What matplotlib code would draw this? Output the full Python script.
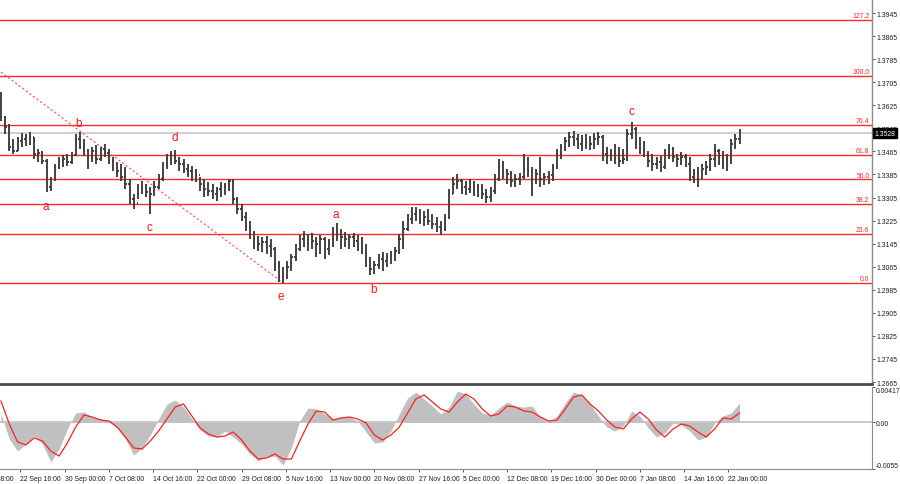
import numpy as np
import matplotlib
matplotlib.use("Agg")
import matplotlib.pyplot as plt
from matplotlib.collections import LineCollection
import matplotlib.transforms as mtransforms

plt.rcParams['font.family'] = ['Liberation Sans', 'DejaVu Sans']

# ---------------- data ----------------
bar_step = 3          # each drawn bar = 3 H4 periods
first_open = 1.3650
highs = [1.3671, 1.3588, 1.3560, 1.3508, 1.3515, 1.3529, 1.3525, 1.3532, 1.3515, 1.3473,
         1.3466, 1.3439, 1.3376, 1.3421, 1.3446, 1.3452, 1.3456, 1.3463, 1.3525, 1.3532,
         1.3508, 1.3473, 1.3480, 1.3487, 1.3480, 1.3491, 1.3473, 1.3446, 1.3428, 1.3421,
         1.3411, 1.3369, 1.3317, 1.3352, 1.3362, 1.3352, 1.3342, 1.3362, 1.3387, 1.3428,
         1.3456, 1.3466, 1.3470, 1.3446, 1.3439, 1.3421, 1.3414, 1.3404, 1.3376, 1.3369,
         1.3359, 1.3352, 1.3342, 1.3359, 1.3355, 1.3369, 1.3369, 1.3307, 1.3283, 1.3255,
         1.3224, 1.3189, 1.3171, 1.3168, 1.3171, 1.3161, 1.3133, 1.3085, 1.3064, 1.3085,
         1.3109, 1.3144, 1.3175, 1.3189, 1.3178, 1.3182, 1.3168, 1.3175, 1.3168, 1.3161,
         1.3203, 1.3217, 1.3196, 1.3185, 1.3178, 1.3182, 1.3175, 1.3168, 1.3144, 1.3099,
         1.3085, 1.3109, 1.3116, 1.3113, 1.3120, 1.3133, 1.3178, 1.3224, 1.3248, 1.3272,
         1.3272, 1.3265, 1.3258, 1.3265, 1.3248, 1.3237, 1.3224, 1.3248, 1.3335, 1.3376,
         1.3387, 1.3369, 1.3362, 1.3369, 1.3362, 1.3352, 1.3352, 1.3335, 1.3342, 1.3387,
         1.3439, 1.3432, 1.3404, 1.3397, 1.3387, 1.3390, 1.3456, 1.3446, 1.3411, 1.3404,
         1.3446, 1.3390, 1.3397, 1.3421, 1.3473, 1.3491, 1.3515, 1.3532, 1.3536, 1.3525,
         1.3522, 1.3525, 1.3518, 1.3529, 1.3532, 1.3522, 1.3480, 1.3473, 1.3491, 1.3480,
         1.3473, 1.3543, 1.3567, 1.3550, 1.3515, 1.3501, 1.3466, 1.3456, 1.3446, 1.3449,
         1.3473, 1.3491, 1.3480, 1.3456, 1.3463, 1.3456, 1.3446, 1.3404, 1.3411, 1.3421,
         1.3432, 1.3456, 1.3491, 1.3473, 1.3466, 1.3456, 1.3508, 1.3525, 1.3543]
lows = [1.3571, 1.3525, 1.3466, 1.3456, 1.3466, 1.3480, 1.3484, 1.3487, 1.3439, 1.3428,
        1.3421, 1.3324, 1.3328, 1.3362, 1.3404, 1.3411, 1.3414, 1.3421, 1.3449, 1.3473,
        1.3449, 1.3404, 1.3428, 1.3421, 1.3432, 1.3446, 1.3421, 1.3397, 1.3376, 1.3362,
        1.3335, 1.3283, 1.3265, 1.3300, 1.3317, 1.3307, 1.3248, 1.3310, 1.3335, 1.3362,
        1.3404, 1.3418, 1.3421, 1.3397, 1.3390, 1.3376, 1.3362, 1.3359, 1.3328, 1.3307,
        1.3310, 1.3300, 1.3293, 1.3307, 1.3314, 1.3328, 1.3283, 1.3248, 1.3224, 1.3189,
        1.3161, 1.3126, 1.3120, 1.3116, 1.3109, 1.3099, 1.3050, 1.3012, 1.3009, 1.3022,
        1.3050, 1.3085, 1.3120, 1.3133, 1.3120, 1.3126, 1.3099, 1.3109, 1.3092, 1.3106,
        1.3133, 1.3154, 1.3126, 1.3133, 1.3126, 1.3133, 1.3120, 1.3109, 1.3064, 1.3036,
        1.3040, 1.3057, 1.3050, 1.3064, 1.3074, 1.3085, 1.3109, 1.3126, 1.3189, 1.3213,
        1.3224, 1.3213, 1.3206, 1.3210, 1.3196, 1.3185, 1.3175, 1.3189, 1.3230, 1.3317,
        1.3335, 1.3317, 1.3314, 1.3321, 1.3310, 1.3307, 1.3300, 1.3286, 1.3290, 1.3317,
        1.3362, 1.3369, 1.3352, 1.3342, 1.3342, 1.3348, 1.3369, 1.3376, 1.3310, 1.3352,
        1.3342, 1.3348, 1.3352, 1.3362, 1.3404, 1.3439, 1.3466, 1.3480, 1.3484, 1.3473,
        1.3466, 1.3473, 1.3470, 1.3473, 1.3487, 1.3432, 1.3421, 1.3432, 1.3421, 1.3411,
        1.3421, 1.3432, 1.3508, 1.3473, 1.3456, 1.3446, 1.3411, 1.3397, 1.3404, 1.3394,
        1.3404, 1.3439, 1.3428, 1.3411, 1.3418, 1.3411, 1.3362, 1.3355, 1.3342, 1.3369,
        1.3383, 1.3397, 1.3411, 1.3418, 1.3404, 1.3397, 1.3421, 1.3473, 1.3491]
closes = [1.3584, 1.3550, 1.3480, 1.3466, 1.3501, 1.3508, 1.3518, 1.3515, 1.3456, 1.3459,
          1.3432, 1.3342, 1.3369, 1.3411, 1.3432, 1.3439, 1.3428, 1.3453, 1.3508, 1.3480,
          1.3466, 1.3446, 1.3466, 1.3439, 1.3473, 1.3459, 1.3432, 1.3411, 1.3397, 1.3376,
          1.3352, 1.3300, 1.3286, 1.3335, 1.3342, 1.3324, 1.3317, 1.3342, 1.3369, 1.3418,
          1.3439, 1.3446, 1.3432, 1.3421, 1.3404, 1.3397, 1.3376, 1.3383, 1.3352, 1.3335,
          1.3328, 1.3317, 1.3335, 1.3342, 1.3348, 1.3362, 1.3300, 1.3265, 1.3237, 1.3203,
          1.3178, 1.3161, 1.3144, 1.3151, 1.3137, 1.3126, 1.3074, 1.3029, 1.3040, 1.3064,
          1.3099, 1.3126, 1.3161, 1.3168, 1.3161, 1.3154, 1.3144, 1.3161, 1.3126, 1.3144,
          1.3189, 1.3178, 1.3168, 1.3161, 1.3168, 1.3154, 1.3147, 1.3126, 1.3085, 1.3057,
          1.3071, 1.3092, 1.3085, 1.3099, 1.3106, 1.3120, 1.3161, 1.3196, 1.3230, 1.3248,
          1.3251, 1.3230, 1.3237, 1.3224, 1.3213, 1.3203, 1.3196, 1.3237, 1.3317, 1.3352,
          1.3362, 1.3342, 1.3335, 1.3348, 1.3328, 1.3335, 1.3317, 1.3307, 1.3328, 1.3369,
          1.3411, 1.3397, 1.3387, 1.3362, 1.3369, 1.3376, 1.3439, 1.3397, 1.3369, 1.3387,
          1.3369, 1.3376, 1.3383, 1.3411, 1.3456, 1.3480, 1.3501, 1.3515, 1.3508, 1.3491,
          1.3501, 1.3494, 1.3491, 1.3508, 1.3515, 1.3456, 1.3446, 1.3456, 1.3439, 1.3432,
          1.3439, 1.3525, 1.3543, 1.3491, 1.3473, 1.3456, 1.3432, 1.3421, 1.3428, 1.3411,
          1.3456, 1.3473, 1.3446, 1.3439, 1.3446, 1.3421, 1.3376, 1.3387, 1.3369, 1.3404,
          1.3411, 1.3439, 1.3466, 1.3446, 1.3421, 1.3439, 1.3491, 1.3508, 1.3528]

ind_step = 6          # indicator sampled every 6 H4 periods
osma = [0.00099, -0.00196, -0.00338, -0.00255, -0.00161, -0.00255, -0.00467, -0.00314, -0.00078, 0.00110,
        0.00122, 0.00063, 0.00040, 0.00016, -0.00066, -0.00196, -0.00385, -0.00302, -0.00149, 0.00040,
        0.00217, 0.00264, 0.00181, 0.00040, -0.00090, -0.00161, -0.00173, -0.00102, -0.00173, -0.00255,
        -0.00373, -0.00455, -0.00408, -0.00397, -0.00503, -0.00302, 0.00016, 0.00169, 0.00158, 0.00099,
        0.00040, 0.00063, 0.00063, 0.00016, -0.00114, -0.00243, -0.00231, -0.00102, 0.00099, 0.00287,
        0.00358, 0.00276, 0.00193, 0.00099, 0.00181, 0.00370, 0.00334, 0.00217, 0.00110, 0.00087,
        0.00169, 0.00240, 0.00193, 0.00181, 0.00193, 0.00063, 0.00004, 0.00075, 0.00228, 0.00358,
        0.00323, 0.00217, 0.00075, -0.00055, -0.00102, -0.00043, 0.00134, 0.00075, -0.00066, -0.00173,
        -0.00125, -0.00007, -0.00031, -0.00102, -0.00208, -0.00173, -0.00007, 0.00075, 0.00110, 0.00228]
signal = [0.00252, -0.00019, -0.00231, -0.00267, -0.00184, -0.00220, -0.00338, -0.00397, -0.00243, -0.00055,
          0.00087, 0.00063, 0.00028, 0.00016, -0.00055, -0.00173, -0.00302, -0.00314, -0.00220, -0.00102,
          0.00040, 0.00181, 0.00217, 0.00075, -0.00066, -0.00137, -0.00173, -0.00161, -0.00114, -0.00208,
          -0.00338, -0.00432, -0.00420, -0.00373, -0.00432, -0.00432, -0.00220, -0.00019, 0.00134, 0.00122,
          0.00028, 0.00052, 0.00063, 0.00040, -0.00007, -0.00149, -0.00208, -0.00149, -0.00055, 0.00110,
          0.00276, 0.00323, 0.00240, 0.00158, 0.00122, 0.00240, 0.00334, 0.00276, 0.00158, 0.00075,
          0.00099, 0.00193, 0.00181, 0.00134, 0.00122, 0.00063, 0.00016, 0.00028, 0.00158, 0.00299,
          0.00323, 0.00217, 0.00134, 0.00028, -0.00055, -0.00078, 0.00040, 0.00122, 0.00040, -0.00090,
          -0.00173, -0.00078, -0.00019, -0.00043, -0.00114, -0.00173, -0.00078, 0.00052, 0.00040, 0.00110]

fib_low = 1.3009
fib_high = 1.3727
fib_levels = [0.0, 23.6, 38.2, 50.0, 61.8, 76.4, 100.0, 127.2]
fib_texts = ["0.0", "23.6", "38.2", "50.0", "61.8", "76.4", "100.0", "127.2"]

last_price = 1.3528
trend_bars = [0, 204]
trend_prices = [1.3740, 1.3009]

wave_texts = ["a", "b", "c", "d", "e", "a", "b", "c"]
wave_bars = [32.5, 56.4, 107.7, 125.8, 202.5, 242.2, 269.7, 455.5]
wave_prices = [1.3276, 1.3564, 1.3203, 1.3515, 1.2963, 1.3248, 1.2988, 1.3605]

time_labels = ["22 Sep 16:00", "30 Sep 00:00", "7 Oct 08:00", "14 Oct 16:00", "22 Oct 00:00",
               "29 Oct 08:00", "5 Nov 16:00", "13 Nov 00:00", "20 Nov 08:00", "27 Nov 16:00",
               "5 Dec 00:00", "12 Dec 08:00", "19 Dec 16:00", "30 Dec 00:00", "7 Jan 08:00",
               "14 Jan 16:00", "22 Jan 00:00"]
first_label_bar = 14
label_every = 32
prev_label = "15 Sep 08:00"

price_ticks = [1.2665, 1.2745, 1.2825, 1.2905, 1.2985, 1.3065, 1.3145, 1.3225, 1.3305,
               1.3385, 1.3465, 1.3545, 1.3625, 1.3705, 1.3785, 1.3865, 1.3945]
ind_ticks = [0.00417, 0.0, -0.0055]
ind_tick_texts = ["0.00417", "0.00", "-0.0055"]

# ---------------- figure ----------------
W, H = 900, 485
fig = plt.figure(figsize=(W / 100, H / 100), dpi=100)
fig.patch.set_facecolor('white')
ax = fig.add_axes([0, 100 / H, 872 / W, 385 / H])
axi = fig.add_axes([0, 15 / H, 872 / W, 82 / H])
XL = (-0.7, 629.8)
small = 4.95
red = '#ff2a2a'
barc = '#3c3c3c'

# price bars
n = len(closes)
x = np.arange(n) * bar_step
opens = [first_open] + closes[:-1]
segs = []
for i in range(n):
    segs.append([(x[i], lows[i]), (x[i], highs[i])])
    segs.append([(x[i] - 1.0, opens[i]), (x[i], opens[i])])
    segs.append([(x[i], closes[i]), (x[i] + 1.0, closes[i])])
ax.add_collection(LineCollection(segs, colors=barc, linewidths=1.35, zorder=3))

# current price line
ax.axhline(last_price, color='#c8c8c8', lw=1.2, zorder=1)

# fibonacci levels
rng = fib_high - fib_low
trans_r = mtransforms.blended_transform_factory(ax.transAxes, ax.transData)
for lv, t in zip(fib_levels, fib_texts):
    p = fib_low + rng * lv / 100.0
    ax.axhline(p, color=red, lw=1.0, zorder=2)
    ax.text(0.997, p + 0.0002, t, transform=trans_r, ha='right', va='bottom',
            color=red, fontsize=small, zorder=4)

# trend line
ax.plot(trend_bars, trend_prices, color='#ff5050', lw=0.8, ls=(0, (2, 2)), zorder=2)

# wave labels
for t, b, p in zip(wave_texts, wave_bars, wave_prices):
    ax.text(b, p, t, color='#ff1a1a', fontsize=8.5, ha='center', va='center', zorder=5)

ax.set_xlim(*XL)
ax.set_ylim(1.26581, 1.39937)
ax.set_xticks([])
ax.yaxis.tick_right()
ax.set_yticks(price_ticks)
ax.set_yticklabels([f"{v:.4f}" for v in price_ticks])
ax.tick_params(axis='y', length=2.0, width=0.6, color='#404040', labelsize=small, pad=1.0,
               labelcolor='#202020')
for s in ['left', 'top']:
    ax.spines[s].set_visible(False)
ax.spines['right'].set_color('#8c8c8c')
ax.spines['right'].set_linewidth(1.0)
ax.spines['bottom'].set_color('#4a4a4a')
ax.spines['bottom'].set_linewidth(2.0)

# price box
ax.text(1.003, last_price, f"{last_price:.4f}", transform=trans_r, ha='left', va='center',
        color='white', fontsize=small, zorder=6, clip_on=False,
        bbox=dict(facecolor='black', edgecolor='black', boxstyle='square,pad=0.2'))

# indicator
xi = np.arange(len(osma)) * ind_step
axi.fill_between(xi, 0, osma, color='#c0c0c0', lw=0, zorder=1)
axi.axhline(0, color='#c0c0c0', lw=1.2, zorder=1)
axi.plot(xi, signal, color='#ff2020', lw=0.9, zorder=3)
axi.set_xlim(*XL)
axi.set_ylim(-0.0055, 0.00417)
axi.yaxis.tick_right()
axi.set_yticks(ind_ticks)
axi.set_yticklabels(ind_tick_texts)
axi.tick_params(axis='y', length=2.0, width=0.6, color='#404040', labelsize=small, pad=1.0,
                labelcolor='#202020')
lbls = axi.get_yticklabels()
lbls[0].set_va('top')
lbls[2].set_va('bottom')
tick_pos = [first_label_bar + label_every * i for i in range(len(time_labels))]
axi.set_xticks(tick_pos)
axi.set_xticklabels(time_labels, ha='left')
axi.tick_params(axis='x', length=2.5, width=0.6, color='#404040', labelsize=small, pad=1.5,
                labelcolor='#202020')
axi.text(first_label_bar - label_every - 2, -0.0055, prev_label, ha='left', va='top',
         fontsize=small, color='#202020', clip_on=False,
         transform=mtransforms.offset_copy(axi.transData, fig=fig, x=0, y=-4.0, units='points'))
for s in ['left', 'top']:
    axi.spines[s].set_visible(False)
axi.spines['right'].set_color('#8c8c8c')
axi.spines['bottom'].set_color('#8c8c8c')
axi.spines['bottom'].set_linewidth(0.8)

fig.savefig('out.png', dpi=100, facecolor='white')
